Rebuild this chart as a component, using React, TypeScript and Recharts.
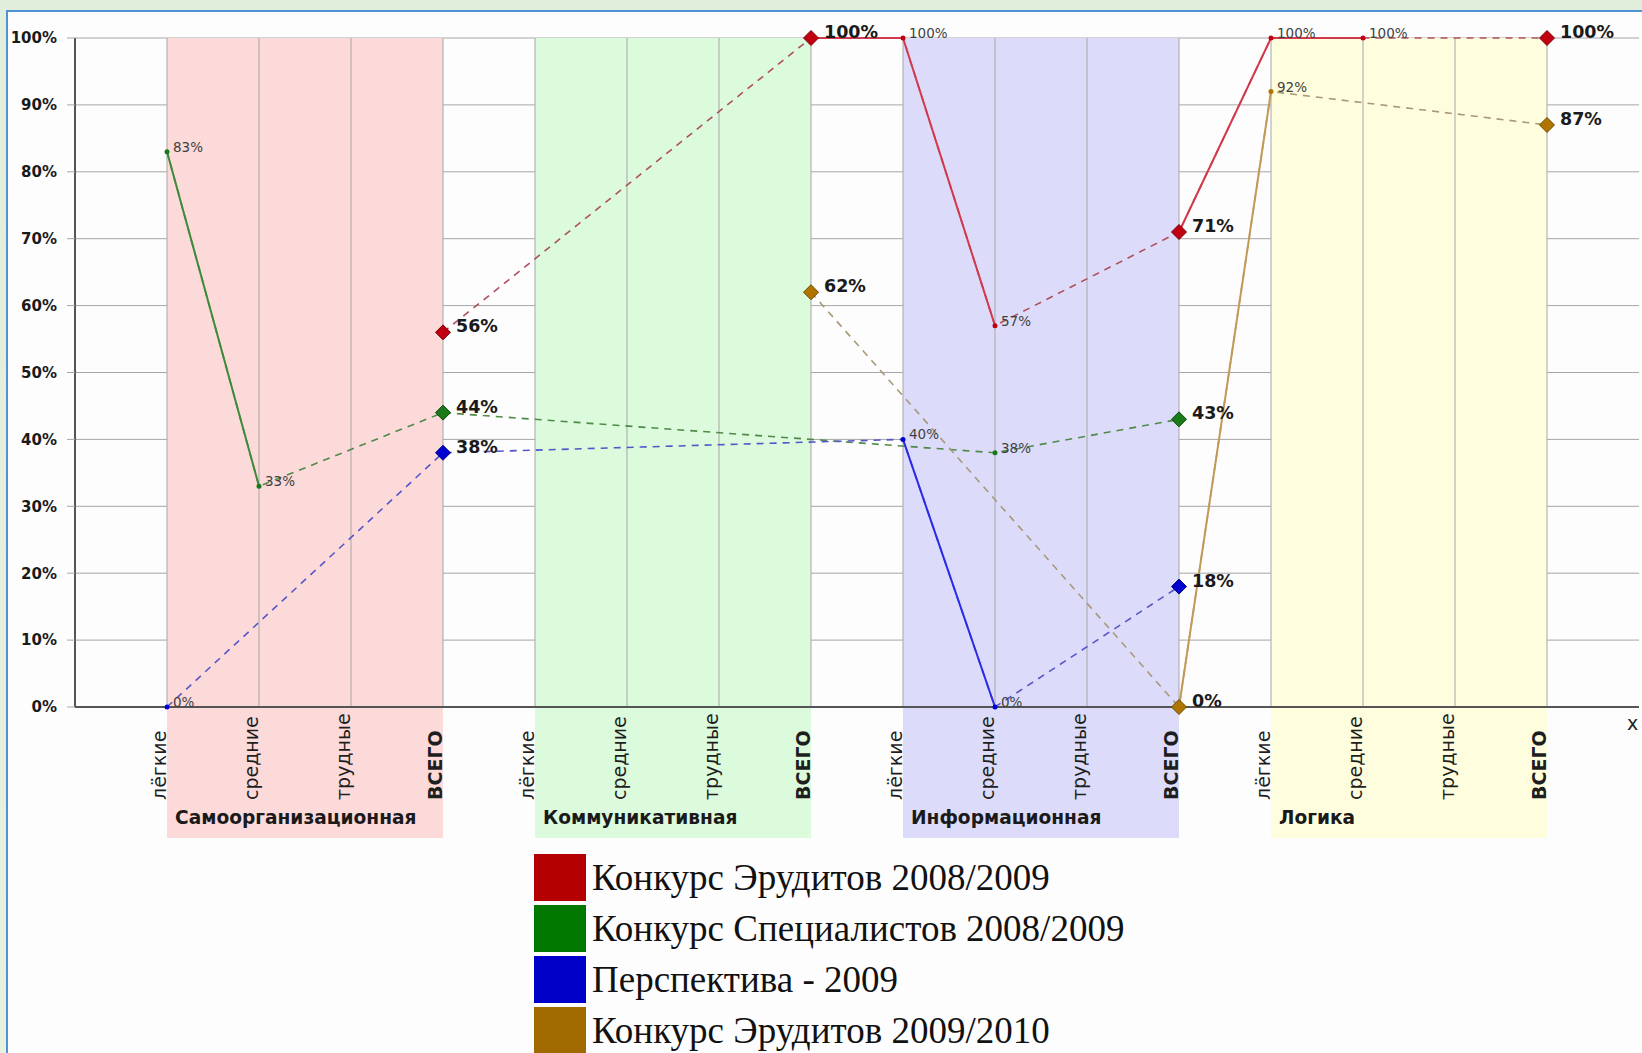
import React from "react";
import {
  ComposedChart,
  Line,
  XAxis,
  YAxis,
  CartesianGrid,
  ReferenceArea,
  ReferenceLine,
  Legend,
} from "recharts";

// competence groups and difficulty levels along the x axis
const GROUPS = ["Самоорганизационная", "Коммуникативная", "Информационная", "Логика"];
const LEVELS = ["лёгкие", "средние", "трудные", "ВСЕГО"];
const POSITIONS = [1, 2, 3, 4, 5, 6, 7, 8, 9, 10, 11, 12, 13, 14, 15, 16];
const Y_TICKS = [0, 10, 20, 30, 40, 50, 60, 70, 80, 90, 100];

// percent values per position, null where nothing was measured
const ERUDITES_0809 = [null, null, null, 56, null, null, null, 100, 100, 57, null, 71, 100, 100, null, 100];
const SPECIALISTS_0809 = [83, 33, null, 44, null, null, null, null, null, 38, null, 43, null, null, null, null];
const PERSPECTIVE_09 = [0, null, null, 38, null, null, null, null, 40, 0, null, 18, null, null, null, null];
const ERUDITES_0910 = [null, null, null, null, null, null, null, 62, null, null, null, 0, 92, null, null, 87];

const BAND_COLORS = ["#fddada", "#dcfadc", "#dcdcfa", "#fefede"];
const BAND_BOTTOM = -19.6;

const SERIES = [
  { key: "erud0809", name: "Конкурс Эрудитов 2008/2009", values: ERUDITES_0809, line: "#d23a4c", dash: "#b0505e", marker: "#c00010", markerStroke: "#7a0008", legend: "#b40000" },
  { key: "spec0809", name: "Конкурс Специалистов 2008/2009", values: SPECIALISTS_0809, line: "#3f8a3a", dash: "#4f8a48", marker: "#1a7a1a", markerStroke: "#0c4a0c", legend: "#007800" },
  { key: "persp09", name: "Перспектива - 2009", values: PERSPECTIVE_09, line: "#2a2ae8", dash: "#5656c8", marker: "#0000d0", markerStroke: "#00007a", legend: "#0000c8" },
  { key: "erud0910", name: "Конкурс Эрудитов 2009/2010", values: ERUDITES_0910, line: "#c29a58", dash: "#a89878", marker: "#b07400", markerStroke: "#6a4800", legend: "#a06a00" },
];

const data = POSITIONS.map((x, i) => {
  const row: Record<string, number | null> = { x };
  for (const s of SERIES) row[s.key] = s.values[i];
  return row;
});

const SANS = '"DejaVu Sans", Verdana, sans-serif';

const isTotal = (pos: number) => pos % 4 === 0;

const XTick = (props: any) => {
  const { x, y, payload } = props;
  const pos = payload.value as number;
  const level = LEVELS[(pos - 1) % 4];
  const group = (pos - 1) % 4 === 0 ? GROUPS[(pos - 1) / 4] : null;
  return (
    <g>
      <text
        transform={`translate(${x - 1},${y + 93}) rotate(-90)`}
        textAnchor="start"
        fontFamily={SANS}
        fontSize={19}
        fontWeight={isTotal(pos) ? "bold" : "normal"}
        fill="#1e1e1e"
      >
        {level}
      </text>
      {group && (
        <text x={x + 8} y={y + 117} fontFamily={SANS} fontSize={18.6} fontWeight="bold" fill="#1a1a1a">
          {group}
        </text>
      )}
      {pos === 16 && (
        <text x={x + 80} y={y + 23} fontFamily={SANS} fontSize={19} fill="#222">
          x
        </text>
      )}
    </g>
  );
};

const makeDot = (s: (typeof SERIES)[number]) => (props: any) => {
  const { cx, cy, payload, index } = props;
  const value = payload ? payload[s.key] : null;
  if (value == null || cy == null) return <g key={`d-${s.key}-${index}`} />;
  const total = isTotal(payload.x);
  const r = 7.5;
  return (
    <g key={`d-${s.key}-${index}`}>
      {total ? (
        <polygon
          points={`${cx},${cy - r} ${cx + r},${cy} ${cx},${cy + r} ${cx - r},${cy}`}
          fill={s.marker}
          stroke={s.markerStroke}
          strokeWidth={1}
        />
      ) : (
        <circle cx={cx} cy={cy} r={2.5} fill={s.marker} />
      )}
      <text
        x={cx + (total ? 13 : 6)}
        y={cy}
        fontFamily={SANS}
        fontSize={total ? 17.5 : 13.5}
        fontWeight={total ? "bold" : "normal"}
        fill={total ? "#1a1a1a" : "#404040"}
      >
        {value}%
      </text>
    </g>
  );
};

const LegendBox = () => (
  <div style={{ fontFamily: '"Liberation Serif", "Times New Roman", serif', fontSize: 37, color: "#111" }}>
    {SERIES.map((s) => (
      <div key={s.key} style={{ display: "flex", alignItems: "flex-start", height: 51 }}>
        <span style={{ width: 52, height: 47, background: s.legend, marginRight: 6, flex: "none" }} />
        <span style={{ lineHeight: "47px", whiteSpace: "nowrap" }}>{s.name}</span>
      </div>
    ))}
  </div>
);

export default function App() {
  return (
    <div
      style={{
        position: "absolute",
        left: 0,
        top: 0,
        width: 1642,
        height: 1053,
        overflow: "hidden",
        background: "linear-gradient(180deg, #e2eedc 0%, #e6f2df 100%)",
      }}
    >
      <div
        style={{
          position: "absolute",
          left: 6,
          top: 10,
          right: -4,
          bottom: -4,
          background: "#fdfdfd",
          borderLeft: "2px solid #4f93d2",
          borderTop: "2px solid #4f93d2",
        }}
      />
      <div style={{ position: "absolute", left: 0, top: 0 }}>
        <ComposedChart width={1642} height={1053} data={data} margin={{ top: 38, right: 3, left: 0, bottom: 0 }}>
          {GROUPS.map((g, i) => (
            <ReferenceArea
              key={g}
              x1={POSITIONS[i * 4]}
              x2={POSITIONS[i * 4 + 3]}
              y1={BAND_BOTTOM}
              y2={100}
              ifOverflow="visible"
              fill={BAND_COLORS[i]}
              fillOpacity={1}
              stroke="none"
            />
          ))}
          <CartesianGrid stroke="#a6a6a6" strokeWidth={1} vertical={false} />
          {POSITIONS.map((p) => (
            <ReferenceLine key={`v-${p}`} x={p} stroke="#a6a6a6" strokeWidth={1} />
          ))}
          <XAxis
            dataKey="x"
            type="number"
            domain={[0, 17]}
            ticks={POSITIONS}
            interval={0}
            height={346}
            tickLine={false}
            tickSize={0}
            tickMargin={0}
            axisLine={{ stroke: "#555", strokeWidth: 2 }}
            tick={<XTick />}
          />
          <YAxis
            domain={[0, 100]}
            ticks={Y_TICKS}
            width={75}
            tickSize={8}
            tickMargin={10}
            tickLine={{ stroke: "#a6a6a6" }}
            axisLine={{ stroke: "#555", strokeWidth: 2 }}
            tickFormatter={(v) => `${v}%`}
            tick={{ fontFamily: SANS, fontSize: 15, fontWeight: "bold", fill: "#1a1a1a" }}
          />
          {SERIES.map((s) => (
            <Line
              key={`${s.key}-gap`}
              dataKey={s.key}
              type="linear"
              connectNulls
              stroke={s.dash}
              strokeWidth={1.6}
              strokeDasharray="7 6"
              dot={false}
              activeDot={false}
              isAnimationActive={false}
              legendType="none"
            />
          ))}
          {SERIES.map((s) => (
            <Line
              key={s.key}
              name={s.name}
              dataKey={s.key}
              type="linear"
              stroke={s.line}
              strokeWidth={2}
              dot={makeDot(s)}
              activeDot={false}
              isAnimationActive={false}
            />
          ))}
          <Legend
            layout="vertical"
            align="center"
            verticalAlign="middle"
            content={() => <LegendBox />}
            wrapperStyle={{ left: 534, top: 854, width: 800, height: "auto" }}
          />
        </ComposedChart>
      </div>
    </div>
  );
}
